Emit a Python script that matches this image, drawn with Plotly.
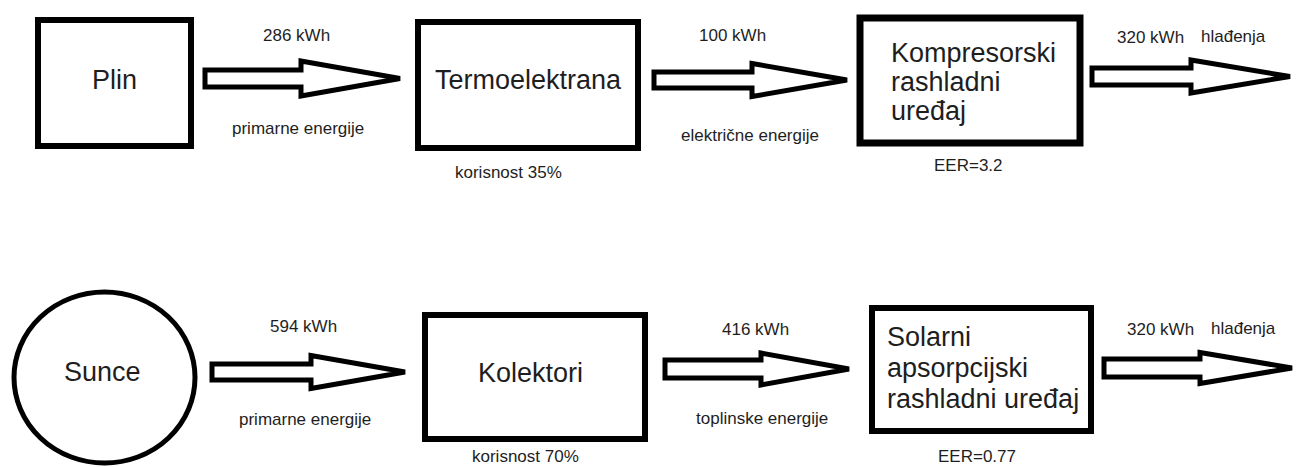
import plotly.graph_objects as go

# ---------------- data ----------------
top_nodes = ["Plin", "Termoelektrana", ["Kompresorski", "rashladni", "uređaj"]]
top_energy_kwh = [286, 100, 320]
top_energy_types = ["primarne energije", "električne energije", "hlađenja"]
top_efficiency = ["korisnost 35%", "EER=3.2"]

bottom_nodes = ["Sunce", "Kolektori", ["Solarni", "apsorpcijski", "rashladni uređaj"]]
bottom_energy_kwh = [594, 416, 320]
bottom_energy_types = ["primarne energije", "toplinske energije", "hlađenja"]
bottom_efficiency = ["korisnost 70%", "EER=0.77"]

# ---------------- layout geometry ----------------
W, H = 1296, 467
FONT = "Liberation Sans, Arial, sans-serif"
TXT = "#1e1e1e"
BIG = 27
SMALL = 17

# boxes: (x0, x1, y0, y1, stroke) centerlines
top_boxes = [(38, 191, 20, 146, 6), (418, 638, 22, 148, 6), (860, 1080, 18, 143, 7)]
bottom_boxes = [None, (425, 645, 315, 439, 6), (872, 1091, 308, 431, 6)]
circle = (14, 195, 292, 463, 5)

# arrows: (x_left, head_base_x, tip_x, y_center, shaft_half, head_half)
top_arrows = [(205, 301, 400, 78.5, 8.5, 17.5), (654, 752, 847, 80, 8, 16.5), (1092, 1191, 1290, 76.5, 8.5, 16.5)]
bottom_arrows = [(212, 311, 405, 372, 8, 16.5), (665, 761, 849, 369, 9, 16), (1104, 1200, 1292, 368, 9, 15.5)]

# label positions
top_center_labels = [(114, 80), (528, 80)]
top_multiline = (889, [53, 82, 111])
bottom_center_labels = [(102, 372), (530, 373)]
bottom_multiline = (885, [337, 368, 399])

top_value_pos = [(296, 35), (732, 35), (1150, 37)]
top_type_pos = [(298, 128), (750, 135), (1233, 36)]
top_eff_pos = [(508, 172), (968, 165)]
bottom_value_pos = [(303, 326), (755, 329), (1160, 329)]
bottom_type_pos = [(305, 419), (762, 418), (1243, 328)]
bottom_eff_pos = [(525, 456), (977, 456)]

fig = go.Figure()
shapes = []
annotations = []


def add_box(b):
    x0, x1, y0, y1, w = b
    shapes.append(dict(type="rect", xref="x", yref="y", x0=x0, x1=x1, y0=y0, y1=y1,
                       line=dict(color="black", width=w), fillcolor="rgba(0,0,0,0)"))


def add_arrow(a):
    xl, hb, tip, yc, sh, hh = a
    path = (f"M {xl},{yc - sh} L {hb},{yc - sh} L {hb},{yc - hh} L {tip},{yc} "
            f"L {hb},{yc + hh} L {hb},{yc + sh} L {xl},{yc + sh} Z")
    shapes.append(dict(type="path", xref="x", yref="y", path=path,
                       line=dict(color="black", width=5), fillcolor="white"))


def add_text(x, y, text, size, anchor="center"):
    annotations.append(dict(x=x, y=y, xref="x", yref="y", text=text, showarrow=False,
                            xanchor=anchor, yanchor="middle",
                            font=dict(family=FONT, size=size, color=TXT)))


for b in top_boxes:
    add_box(b)
for b in bottom_boxes:
    if b is not None:
        add_box(b)
cx0, cx1, cy0, cy1, cw = circle
shapes.append(dict(type="circle", xref="x", yref="y", x0=cx0, x1=cx1, y0=cy0, y1=cy1,
                   line=dict(color="black", width=cw), fillcolor="rgba(0,0,0,0)"))
for a in top_arrows + bottom_arrows:
    add_arrow(a)

# node labels
for (x, y), name in zip(top_center_labels, top_nodes[:2]):
    add_text(x, y, name, BIG)
for y, line in zip(top_multiline[1], top_nodes[2]):
    add_text(top_multiline[0], y, line, BIG, "left")
for (x, y), name in zip(bottom_center_labels, bottom_nodes[:2]):
    add_text(x, y, name, BIG)
for y, line in zip(bottom_multiline[1], bottom_nodes[2]):
    add_text(bottom_multiline[0], y, line, BIG, "left")

# flow labels
for (x, y), v in zip(top_value_pos, top_energy_kwh):
    add_text(x, y, f"{v} kWh", SMALL)
for (x, y), t in zip(top_type_pos, top_energy_types):
    add_text(x, y, t, SMALL)
for (x, y), t in zip(top_eff_pos, top_efficiency):
    add_text(x, y, t, SMALL)
for (x, y), v in zip(bottom_value_pos, bottom_energy_kwh):
    add_text(x, y, f"{v} kWh", SMALL)
for (x, y), t in zip(bottom_type_pos, bottom_energy_types):
    add_text(x, y, t, SMALL)
for (x, y), t in zip(bottom_eff_pos, bottom_efficiency):
    add_text(x, y, t, SMALL)

fig.update_layout(
    width=W, height=H,
    margin=dict(l=0, r=0, t=0, b=0, pad=0),
    paper_bgcolor="white", plot_bgcolor="white",
    xaxis=dict(range=[0, W], visible=False, fixedrange=True),
    yaxis=dict(range=[H, 0], visible=False, fixedrange=True),
    shapes=shapes, annotations=annotations, showlegend=False,
)

fig.write_html("out.html", config={"displayModeBar": False},
               post_script="document.body.style.margin='0';document.body.style.overflow='hidden';")
